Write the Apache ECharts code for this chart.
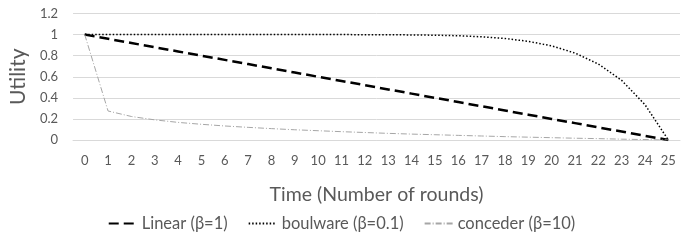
<!DOCTYPE html>
<html><head><meta charset="utf-8">
<script src="https://cdn.jsdelivr.net/npm/echarts@6/dist/echarts.min.js"></script>
<style>html,body{margin:0;padding:0;background:#fff}#c{width:683px;height:244px}</style>
</head><body><div id="c"></div>
<script>
const rounds = ['0','1','2','3','4','5','6','7','8','9','10','11','12','13','14','15','16','17','18','19','20','21','22','23','24','25'];
const linear = [1,0.96,0.92,0.88,0.84,0.8,0.76,0.72,0.68,0.64,0.6,0.56,0.52,0.48,0.44,0.4,0.36,0.32,0.28,0.24,0.2,0.16,0.12,0.08,0.04,0];
const boulware = [1,1,1,1,1,1,1,1,1,1,1,1,0.999,0.998,0.997,0.994,0.989,0.979,0.963,0.936,0.893,0.825,0.721,0.566,0.335,0];
const conceder = [1,0.275,0.223,0.191,0.167,0.149,0.133,0.12,0.108,0.097,0.088,0.079,0.071,0.063,0.056,0.05,0.044,0.038,0.032,0.027,0.022,0.017,0.013,0.008,0.004,0];
const yTicks = [0,0.2,0.4,0.6,0.8,1,1.2];

const font = 'Lato';
const gray = '#595959';
const chart = echarts.init(document.getElementById('c'), null, {renderer:'canvas'});
chart.setOption({
  animation:false,
  grid:{left:71,right:3,top:13.5,bottom:104,containLabel:false},
  xAxis:{
    type:'category', data:rounds, boundaryGap:true,
    axisLine:{show:true,lineStyle:{color:'#d9d9d9'}},
    axisTick:{show:false},
    axisLabel:{color:gray,fontFamily:font,fontSize:13,margin:14,interval:0},
    name:'Time (Number of rounds)', nameLocation:'middle', nameGap:45,
    nameTextStyle:{color:gray,fontFamily:font,fontSize:19.5}
  },
  yAxis:{
    type:'value', min:0, max:1.2, interval:0.2,
    axisLine:{show:false}, axisTick:{show:false},
    splitLine:{lineStyle:{color:'#d9d9d9'}},
    axisLabel:{color:gray,fontFamily:font,fontSize:13,margin:15,
      formatter:v=>{const t=yTicks.find(x=>Math.abs(x-v)<1e-6);return t===undefined?'':String(t);}},
    name:'Utility', nameLocation:'middle', nameGap:37, nameRotate:90,
    nameTextStyle:{color:gray,fontFamily:font,fontSize:21}
  },
  legend:{
    top:210, left:'center', itemWidth:28, itemHeight:10, itemGap:20,
    itemStyle:{opacity:0},
    textStyle:{color:gray,fontFamily:font,fontSize:16.5},
    data:['Linear (β=1)','boulware (β=0.1)','conceder (β=10)']
  },
  series:[
    {name:'Linear (β=1)',type:'line',data:linear,showSymbol:false,symbol:'none',
      lineStyle:{color:'#000',width:2.5,type:[10,5]},itemStyle:{color:'#000'}},
    {name:'boulware (β=0.1)',type:'line',data:boulware,showSymbol:false,symbol:'none',
      lineStyle:{color:'#000',width:1.5,type:[1.5,2]},itemStyle:{color:'#000'}},
    {name:'conceder (β=10)',type:'line',data:conceder,showSymbol:false,symbol:'none',
      lineStyle:{color:'#a6a6a6',width:1,type:[6,2,1,2]},itemStyle:{color:'#a6a6a6'}}
  ]
});
</script></body></html>
